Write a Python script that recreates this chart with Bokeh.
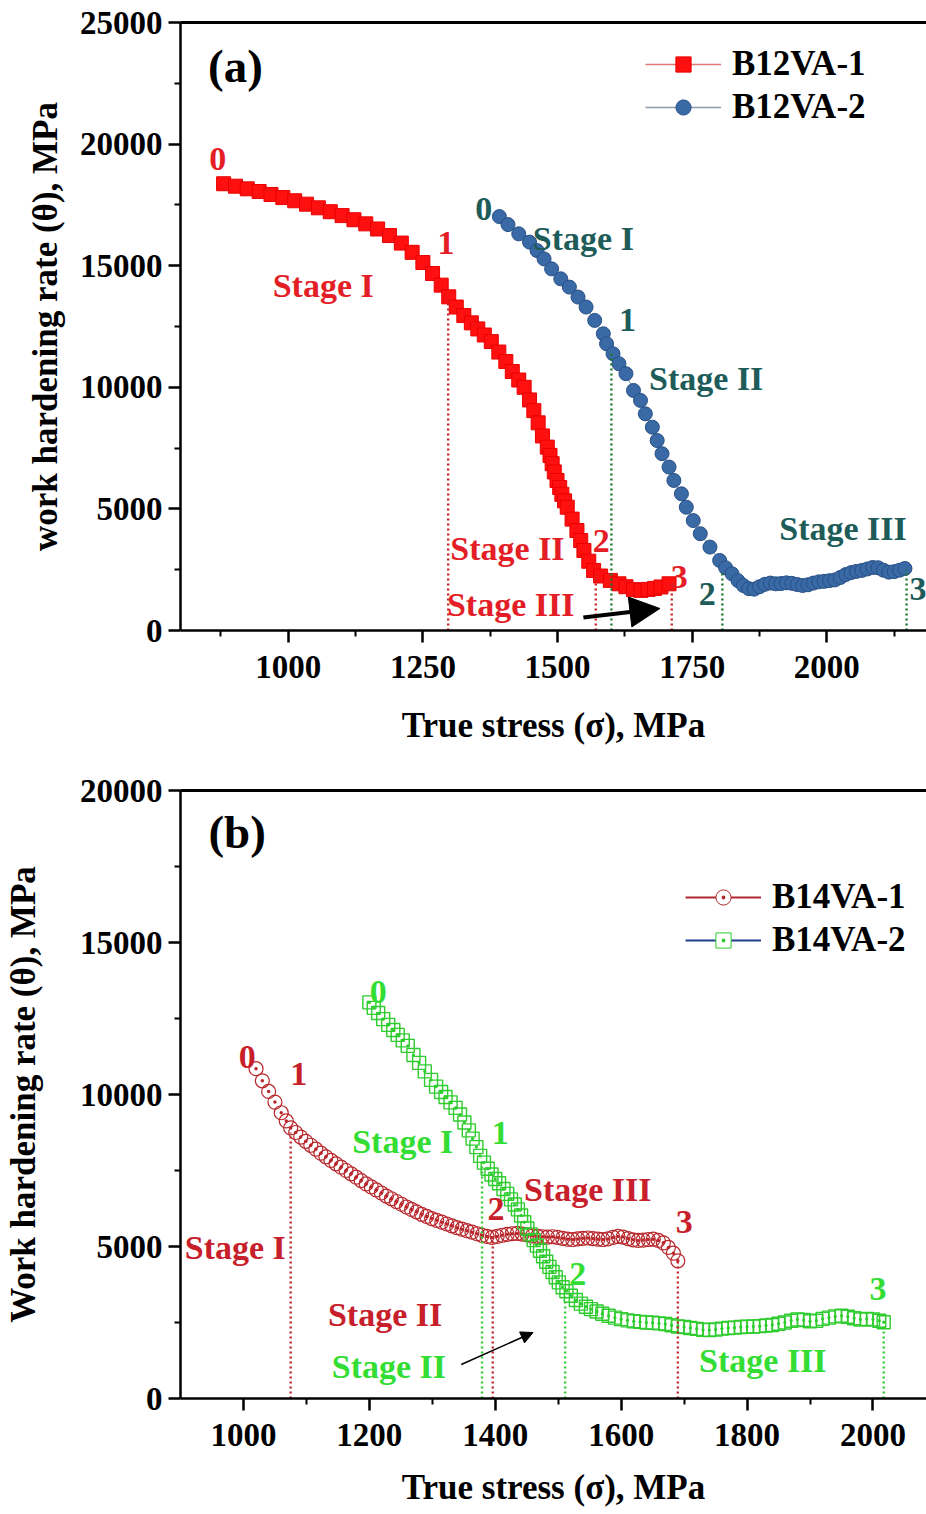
from bokeh.plotting import figure
from bokeh.layouts import column
from bokeh.models import (Range1d, LinearAxis, Legend, LegendItem, Arrow, NormalHead,
                          FixedTicker)
from bokeh.core.properties import value
from bokeh.embed import file_html
from bokeh.resources import INLINE

FONT = "Liberation Serif"

# ---------------- Panel (a) data ----------------
b12va1_x = [880, 902, 924, 946, 968, 990, 1012, 1034, 1056, 1078, 1100, 1122, 1144, 1166, 1188,
            1210, 1230, 1250, 1268, 1284, 1298, 1312, 1326, 1340, 1352, 1364, 1377, 1391, 1404,
            1416, 1428, 1438, 1448, 1456, 1464, 1472, 1481, 1486, 1490, 1494, 1499, 1504, 1508,
            1513, 1518, 1527, 1536, 1543, 1549, 1558, 1567, 1580, 1598, 1614, 1627, 1641, 1655,
            1668, 1680, 1692, 1707]
b12va1_y = [18370, 18270, 18160, 18050, 17930, 17800, 17670, 17530, 17380, 17220, 17060, 16890,
            16720, 16510, 16240, 15930, 15550, 15130, 14680, 14200, 13720, 13300, 12950, 12650,
            12400, 12150, 11880, 11450, 11060, 10650, 10300, 10000, 9480, 9040, 8540, 8000, 7540,
            7200, 6860, 6520, 6170, 5880, 5600, 5330, 5070, 4580, 4110, 3700, 3290, 2850, 2470,
            2240, 2060, 1920, 1800, 1680, 1650, 1690, 1730, 1790, 1920]

b12va2_x = [1392, 1408, 1428, 1448, 1462, 1475, 1489, 1506, 1522, 1538, 1553, 1569, 1585, 1591,
            1603, 1614, 1627, 1641, 1654, 1663, 1676, 1685, 1694, 1707, 1716, 1730, 1739, 1752,
            1765, 1783, 1801, 1812, 1824, 1835, 1845, 1855, 1865, 1875, 1885, 1895, 1905, 1915,
            1925, 1935, 1945, 1955, 1965, 1975, 1985, 1995, 2005, 2015, 2025, 2035, 2045, 2055,
            2065, 2075, 2085, 2095, 2105, 2115, 2125, 2135, 2145]
b12va2_y = [17020, 16690, 16310, 15970, 15620, 15280, 14870, 14460, 14120, 13710, 13300, 12750,
            12200, 11790, 11380, 10970, 10560, 9870, 9460, 8910, 8360, 7810, 7270, 6720, 6170,
            5620, 5070, 4520, 3980, 3430, 2880, 2580, 2330, 2050, 1850, 1720, 1700, 1800, 1900,
            1950, 1920, 1930, 1960, 1940, 1890, 1850, 1880, 1950, 2000, 2020, 2050, 2080, 2180,
            2300, 2380, 2430, 2470, 2530, 2590, 2580, 2480, 2400, 2420, 2480, 2550]

a_red_div_x = [1297, 1571, 1712]
a_red_div_top = [13700, 2300, 1900]
a_green_div_x = [1600, 1806, 2148]
a_green_div_top = [11500, 2400, 2500]

a_red_text = ["0", "1", "Stage I", "Stage II", "2", "Stage III", "3"]
a_red_tx = [869, 1293, 1065, 1407, 1581, 1413, 1726]
a_red_ty = [19400, 15950, 14190, 3370, 3700, 1070, 2180]
a_teal_text = ["0", "Stage I", "1", "Stage II", "Stage III", "2", "3"]
a_teal_tx = [1363, 1548, 1630, 1776, 2030, 1778, 2169]
a_teal_ty = [17350, 16120, 12750, 10360, 4190, 1520, 1690]

# ---------------- Panel (b) data ----------------
b14va1_x = [1020, 1030, 1040, 1050, 1060, 1068, 1075, 1083, 1091, 1099, 1107, 1115, 1123, 1131,
            1139, 1147, 1155, 1163, 1171, 1179, 1187, 1195, 1203, 1211, 1219, 1227, 1235, 1243,
            1251, 1259, 1267, 1275, 1283, 1291, 1299, 1307, 1315, 1323, 1331, 1339, 1347, 1355,
            1363, 1371, 1379, 1387, 1395, 1403, 1411, 1419, 1427, 1435, 1443, 1451, 1459, 1467,
            1475, 1483, 1491, 1499, 1507, 1515, 1523, 1531, 1539, 1547, 1555, 1563, 1571, 1579,
            1587, 1595, 1603, 1611, 1619, 1627, 1635, 1643, 1651, 1659, 1667, 1675, 1683, 1690]
b14va1_y = [10850, 10450, 10100, 9750, 9400, 9130, 8900, 8750, 8600, 8460, 8330, 8200, 8070,
            7950, 7830, 7720, 7610, 7500, 7390, 7280, 7170, 7060, 6960, 6860, 6760, 6660, 6570,
            6480, 6390, 6300, 6220, 6140, 6060, 5990, 5920, 5860, 5800, 5740, 5680, 5620, 5570,
            5520, 5470, 5420, 5370, 5330, 5300, 5330, 5370, 5400, 5420, 5430, 5410, 5380, 5350,
            5330, 5320, 5310, 5320, 5300, 5270, 5240, 5230, 5250, 5270, 5280, 5260, 5240, 5230,
            5250, 5300, 5330, 5310, 5260, 5220, 5200, 5210, 5230, 5240, 5200, 5120, 4970, 4780,
            4530]

b14va2_x = [1200, 1207, 1214, 1222, 1230, 1238, 1245, 1253, 1261, 1270, 1279, 1288, 1298, 1306,
            1314, 1321, 1329, 1337, 1344, 1351, 1358, 1364, 1370, 1376, 1382, 1388, 1394, 1400,
            1406, 1413, 1419, 1425, 1431, 1436, 1441, 1446, 1451, 1456, 1461, 1466, 1471, 1476,
            1481, 1486, 1491, 1496, 1501, 1507, 1513, 1520, 1528, 1536, 1544, 1552, 1561, 1570,
            1580, 1590, 1600, 1610, 1620, 1630, 1640, 1650, 1660, 1670, 1680, 1690, 1700, 1710,
            1720, 1730, 1740, 1750, 1760, 1770, 1780, 1790, 1800, 1810, 1820, 1830, 1840, 1850,
            1860, 1870, 1880, 1890, 1900, 1910, 1920, 1930, 1940, 1950, 1960, 1970, 1980, 1990,
            2000, 2010, 2017]
b14va2_y = [13030, 12850, 12680, 12480, 12290, 12120, 11960, 11780, 11600, 11300, 11040, 10760,
            10480, 10260, 10080, 9920, 9740, 9560, 9340, 9080, 8820, 8550, 8270, 7980, 7760,
            7560, 7370, 7220, 7080, 6890, 6730, 6550, 6380, 6220, 6020, 5800, 5590, 5400, 5210,
            5030, 4860, 4680, 4500, 4330, 4160, 3990, 3820, 3660, 3530, 3380, 3240, 3120, 3020,
            2940, 2860, 2790, 2720, 2660, 2610, 2570, 2540, 2520, 2500, 2490, 2470, 2450, 2410,
            2370, 2350, 2320, 2290, 2260, 2250, 2270, 2300, 2320, 2330, 2350, 2360, 2370, 2380,
            2400, 2420, 2460, 2500, 2560, 2600, 2580, 2540, 2560, 2620, 2660, 2700, 2720, 2690,
            2640, 2600, 2620, 2600, 2560, 2510]

b_red_div_x = [1075, 1396, 1690]
b_red_div_top = [8750, 5400, 4500]
b_green_div_x = [1379, 1511, 2017]
b_green_div_top = [7900, 3400, 2450]

b_red_text = ["0", "1", "Stage I", "Stage II", "2", "Stage III", "3"]
b_red_tx = [1006, 1088, 987, 1225, 1401, 1547, 1700]
b_red_ty = [11220, 10660, 4970, 2760, 6250, 6880, 5820]
b_green_text = ["0", "Stage I", "1", "Stage II", "2", "Stage III", "3"]
b_green_tx = [1214, 1253, 1408, 1231, 1531, 1825, 2008]
b_green_ty = [13360, 8460, 8750, 1050, 4080, 1250, 3590]

a_xticks = [1000, 1250, 1500, 1750, 2000]
a_xminor = [875, 1125, 1375, 1625, 1875, 2125]
a_yticks = [0, 5000, 10000, 15000, 20000, 25000]
a_yminor = [2500, 7500, 12500, 17500, 22500]
b_xticks = [1000, 1200, 1400, 1600, 1800, 2000]
b_xminor = [1100, 1300, 1500, 1700, 1900]
b_yticks = [0, 5000, 10000, 15000, 20000]
b_yminor = [2500, 7500, 12500, 17500]


def style_axes(p, xt, xm, yt, ym, ylabel, ystand, xstand):
    p.xgrid.visible = False
    p.ygrid.visible = False
    p.outline_line_color = None
    p.xaxis.ticker = FixedTicker(ticks=xt, minor_ticks=xm)
    p.yaxis.ticker = FixedTicker(ticks=yt, minor_ticks=ym)
    for ax in (p.xaxis[0], p.yaxis[0]):
        ax.axis_line_width = 2.5
        ax.major_tick_line_width = 2.5
        ax.minor_tick_line_width = 2
        ax.major_tick_out = 12
        ax.major_tick_in = 0
        ax.minor_tick_out = 6
        ax.minor_tick_in = 0
        ax.major_label_text_font = FONT
        ax.major_label_text_font_style = "bold"
        ax.major_label_text_font_size = "33px"
        ax.major_label_text_color = "black"
        ax.axis_label_text_font = FONT
        ax.axis_label_text_font_style = "bold"
        ax.axis_label_text_font_size = "35px"
        ax.axis_label_text_color = "black"
    p.xaxis.axis_label = "True stress (σ), MPa"
    p.xaxis.major_label_standoff = 13
    p.xaxis.axis_label_standoff = xstand
    p.yaxis.axis_label = ylabel
    p.yaxis.major_label_standoff = 6
    p.yaxis.axis_label_standoff = ystand
    top = LinearAxis(ticker=FixedTicker(ticks=[]), axis_line_width=3,
                     major_tick_line_color=None, minor_tick_line_color=None)
    p.add_layout(top, "above")


def add_text(p, xs, ys, txt, color, size="34px"):
    p.text(x=xs, y=ys, text=txt, text_color=color, text_font=value(FONT),
           text_font_style="bold", text_font_size=size, text_align="center",
           text_baseline="middle")


def add_div(p, xs, tops, color):
    p.segment(x0=xs, y0=[0] * len(xs), x1=xs, y1=tops, line_color=color,
              line_width=2.4, line_dash="2 3")


def make_legend(items, loc):
    return Legend(items=items, location=loc, glyph_width=76, glyph_height=38,
                  label_height=38, spacing=3, padding=0, margin=0,
                  border_line_color=None, background_fill_alpha=0,
                  label_text_font=FONT, label_text_font_style="bold",
                  label_text_font_size="35px", label_text_color="black",
                  label_standoff=11)


# ---------------- Figure (a) ----------------
pa = figure(width=926, height=760, x_range=Range1d(800, 2185), y_range=Range1d(0, 25000),
            output_backend="svg", toolbar_location=None, min_border_left=178,
            min_border_right=0, min_border_top=22, min_border_bottom=130)
style_axes(pa, a_xticks, a_xminor, a_yticks, a_yminor, "work hardening rate (θ), MPa", 12, 25)

pa.line(b12va1_x, b12va1_y, line_color="#E06060", line_width=1)
pa.scatter(b12va1_x, b12va1_y, marker="square", size=14, fill_color="#FF1010",
           line_color="#E80000")
pa.line(b12va2_x, b12va2_y, line_color="#8899AA", line_width=1)
pa.scatter(b12va2_x, b12va2_y, marker="circle", size=14, fill_color="#3A6AA6",
           line_color="#274F86")

add_div(pa, a_red_div_x, a_red_div_top, "#CC2222")
add_div(pa, a_green_div_x, a_green_div_top, "#1B7A2A")

add_text(pa, a_red_tx, a_red_ty, a_red_text, "#E41E26")
add_text(pa, a_teal_tx, a_teal_ty, a_teal_text, "#1E5C5A")
add_text(pa, [902], [23230], ["(a)"], "black", size="47px")

pa.add_layout(Arrow(end=NormalHead(size=30, fill_color="black", line_color="black"),
                    x_start=1548, y_start=535, x_end=1690, y_end=905,
                    line_width=4, line_color="black"))

# legend-only renderers (hidden)
la1 = pa.line(b12va1_x, b12va1_y, line_color="#E07878", line_width=1.5, visible=False)
sa1 = pa.scatter(b12va1_x, b12va1_y, marker="square", size=15, fill_color="#FF1010",
                 line_color="#E80000", visible=False)
la2 = pa.line(b12va2_x, b12va2_y, line_color="#8A9AAE", line_width=1.5, visible=False)
sa2 = pa.scatter(b12va2_x, b12va2_y, marker="circle", size=15, fill_color="#3A6AA6",
                 line_color="#274F86", visible=False)
pa.add_layout(make_legend([LegendItem(label="B12VA-1", renderers=[la1, sa1]),
                           LegendItem(label="B12VA-2", renderers=[la2, sa2])], (465, 503)))

# ---------------- Figure (b) ----------------
pb = figure(width=926, height=754, x_range=Range1d(900, 2085), y_range=Range1d(0, 20000),
            output_backend="svg", toolbar_location=None, min_border_left=180,
            min_border_right=0, min_border_top=30, min_border_bottom=116)
style_axes(pb, b_xticks, b_xminor, b_yticks, b_yminor, "Work hardening rate (θ), MPa", 34, 19)

pb.scatter(b14va1_x, b14va1_y, marker="circle_dot", size=14, fill_alpha=0,
           line_color="#B8262B", line_width=1.2)
pb.scatter(b14va2_x, b14va2_y, marker="square_dot", size=13, fill_alpha=0,
           line_color="#2ECC2E", line_width=1.4)

add_div(pb, b_red_div_x, b_red_div_top, "#C0282D")
add_div(pb, b_green_div_x, b_green_div_top, "#33CC33")

add_text(pb, b_red_tx, b_red_ty, b_red_text, "#C8202A")
add_text(pb, b_green_tx, b_green_ty, b_green_text, "#33DD33")
add_text(pb, [990], [18650], ["(b)"], "black", size="47px")

pb.add_layout(Arrow(end=NormalHead(size=12, fill_color="black", line_color="black"),
                    x_start=1346, y_start=1120, x_end=1460, y_end=2170,
                    line_width=1.5, line_color="black"))

lb1 = pb.line(b14va1_x, b14va1_y, line_color="#B0282D", line_width=2, visible=False)
sb1 = pb.scatter(b14va1_x, b14va1_y, marker="circle_dot", size=14, fill_color="white",
                 line_color="#B0282D", visible=False)
lb2 = pb.line(b14va2_x, b14va2_y, line_color="#1F3F8F", line_width=2, visible=False)
sb2 = pb.scatter(b14va2_x, b14va2_y, marker="square_dot", size=14, fill_color="white",
                 line_color="#2ECC2E", visible=False)
pb.add_layout(make_legend([LegendItem(label="B14VA-1", renderers=[lb1, sb1]),
                           LegendItem(label="B14VA-2", renderers=[lb2, sb2])], (505, 438)))

layout = column(pa, pb, spacing=0)
open("out.html", "w").write(file_html(layout, INLINE))
